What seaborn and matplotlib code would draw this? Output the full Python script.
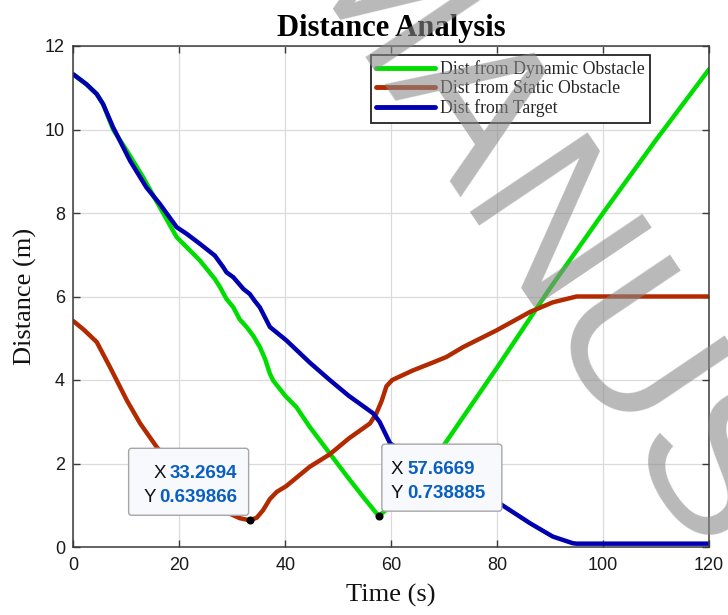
import numpy as np
import pandas as pd
import matplotlib
matplotlib.use("Agg")
import matplotlib.pyplot as plt
import seaborn as sns
from matplotlib.patches import FancyBboxPatch
from matplotlib.transforms import IdentityTransform

# ---------------- data ----------------
series_names = ["Dist from Dynamic Obstacle", "Dist from Static Obstacle", "Dist from Target"]
series_colors = ["#00dd00", "#b22a00", "#0000b0"]

dyn_t = [0, 2.5, 4.4, 5.6, 7.5, 10.1, 13.2, 16.3, 19.5, 21.4, 23.9, 26.7, 27.7, 28.9, 30.2,
         31.4, 32.7, 34.0, 35.2, 36.2, 37.1, 37.7, 40.0, 42.1, 44.6, 48.4, 51.5, 54.7, 57.2,
         57.67, 60, 63, 66, 70, 80, 90, 100, 110, 120]
dyn_d = [11.32, 11.08, 10.85, 10.61, 10.0, 9.49, 8.85, 8.14, 7.42, 7.18, 6.86, 6.42, 6.22, 5.94, 5.74,
         5.45, 5.27, 5.05, 4.79, 4.5, 4.15, 3.99, 3.62, 3.35, 2.88, 2.24, 1.72, 1.2, 0.81,
         0.739, 1.0, 1.4, 1.88, 2.45, 4.3, 6.2, 8.0, 9.75, 11.44]

sta_t = [0, 2, 4.4, 6.9, 10.1, 12.6, 15.7, 18, 21, 24, 27, 29.5, 31.4, 33.27, 34.6, 35.8, 37.1,
         38.4, 40.2, 44.6, 48.4, 52, 56.0, 57.2, 58.2, 59.1, 60.2, 64.1, 67.3, 70.4, 73.6, 79.9,
         86.2, 90.5, 95, 120]
sta_d = [5.41, 5.2, 4.91, 4.31, 3.51, 2.96, 2.40, 2.05, 1.65, 1.3, 1.0, 0.8, 0.69, 0.64, 0.7, 0.88, 1.15,
         1.32, 1.46, 1.92, 2.22, 2.6, 2.96, 3.2, 3.5, 3.85, 4.0, 4.23, 4.39, 4.55, 4.79, 5.19,
         5.63, 5.86, 6.0, 6.0]

tgt_t = [0, 2.5, 4.4, 5.6, 7.5, 10.7, 13.8, 16.3, 19.5, 21.4, 23.9, 26.7, 28.3, 28.9, 30.2, 32.1,
         33.3, 34.2, 35.2, 37.1, 40.2, 44.6, 48.4, 52, 55.3, 56.6, 57.8, 59.8, 62, 66, 70, 75,
         80.5, 86.2, 90.5, 94.3, 95, 120]
tgt_d = [11.32, 11.08, 10.85, 10.61, 10.05, 9.25, 8.61, 8.22, 7.66, 7.5, 7.26, 6.98, 6.70, 6.58, 6.46, 6.18,
         6.06, 5.9, 5.74, 5.27, 4.95, 4.42, 4.0, 3.62, 3.32, 3.2, 3.0, 2.48, 2.3, 1.98, 1.68, 1.36,
         1.04, 0.57, 0.25, 0.09, 0.08, 0.08]

tip_x = [33.2694, 57.6669]
tip_y = [0.639866, 0.738885]

x_ticks = [0, 20, 40, 60, 80, 100, 120]
y_ticks = [0, 2, 4, 6, 8, 10, 12]
title_text = "Distance Analysis"
x_label = "Time (s)"
y_label = "Distance (m)"
watermark_text = "MANUSCRIPT"

# ---------------- style ----------------
sns.set_theme(style="whitegrid")
plt.rcParams["font.family"] = ["Liberation Sans", "DejaVu Sans"]

W, H = 728, 615
fig = plt.figure(figsize=(W / 100, H / 100), dpi=100)
ax_l, ax_r, ax_t, ax_b = 73.4, 709.0, 46.0, 547.0
ax = fig.add_axes([ax_l / W, 1 - ax_b / H, (ax_r - ax_l) / W, (ax_b - ax_t) / H])

df = pd.concat([
    pd.DataFrame({"t": dyn_t, "d": dyn_d, "series": series_names[0]}),
    pd.DataFrame({"t": sta_t, "d": sta_d, "series": series_names[1]}),
    pd.DataFrame({"t": tgt_t, "d": tgt_d, "series": series_names[2]}),
], ignore_index=True)

sns.lineplot(data=df, x="t", y="d", hue="series", hue_order=series_names,
             palette=series_colors, linewidth=3.2, estimator=None, sort=False,
             legend=False, ax=ax)

ax.set_xlim(0, 120)
ax.set_ylim(0, 12)
ax.set_xticks(x_ticks)
ax.set_yticks(y_ticks)
ax.set_xticklabels([str(v) for v in x_ticks])
ax.set_yticklabels([str(v) for v in y_ticks])

ax.set_facecolor("white")
ax.grid(True, color="#dadada", linewidth=0.9)
for sp in ax.spines.values():
    sp.set_color("#3a3a3a")
    sp.set_linewidth(1.1)
ax.tick_params(axis="both", direction="in", length=5, width=1.0, color="#3a3a3a",
               bottom=True, left=True, top=True, right=True,
               labelsize=13, labelcolor="#1a1a1a")
ax.tick_params(axis="x", pad=7)
ax.tick_params(axis="y", pad=6)

ax.set_title(title_text, family="Liberation Serif", fontweight="bold", fontsize=22,
             color="black", pad=7)
ax.set_xlabel(x_label, family="Liberation Serif", fontsize=19, color="#111111", labelpad=7)
ax.set_ylabel(y_label, family="Liberation Serif", fontsize=19, color="#111111", labelpad=6)

leg = ax.legend(ax.lines[:3], series_names, loc="upper right",
                bbox_to_anchor=((650 - ax_l) / (ax_r - ax_l), 1 - (55 - ax_t) / (ax_b - ax_t)),
                borderaxespad=0, frameon=True, fancybox=False, framealpha=1,
                edgecolor="#222222", facecolor="white",
                prop={"family": "Liberation Serif", "size": 12.8},
                handlelength=3.3, handletextpad=0.3, labelspacing=0.12, borderpad=0.3)
leg.get_frame().set_linewidth(1.3)
for h in leg.get_lines():
    h.set_linewidth(3.5)

# data-tip markers
ax.plot(tip_x, tip_y, linestyle="none", marker="o", markersize=4.8,
        color="black", zorder=6)

# data-tip boxes (pixel offsets from the anchored point)
fig.canvas.draw()
renderer = fig.canvas.get_renderer()
ident = IdentityTransform()
val_color = "#0a5fc0"
box_w, box_h = 120, 67
for i, (xv, yv) in enumerate(zip(tip_x, tip_y)):
    px, py = ax.transData.transform((xv, yv))
    if i == 0:
        bx0 = px - 1 - box_w
    else:
        bx0 = px + 3
    by0 = py + 5
    box = FancyBboxPatch((bx0, by0), box_w, box_h, boxstyle="round,pad=0,rounding_size=3",
                         transform=ident, facecolor="#f8f9fd", edgecolor="#a6a6a6",
                         linewidth=1.0, zorder=7)
    fig.add_artist(box)
    lines = [("X", f"{xv:.4f}"), ("Y", f"{yv:.6f}")]
    base_offsets = [37, 13]
    for (lab, val), bo in zip(lines, base_offsets):
        by = by0 + bo
        if i == 0:
            tv = fig.text(bx0 + box_w - 11, by, val, transform=ident, ha="right", va="baseline",
                          fontsize=13.5, fontweight="bold", color=val_color, zorder=8)
            ext = tv.get_window_extent(renderer)
            fig.text(ext.x0 - 4, by, lab, transform=ident, ha="right", va="baseline",
                     fontsize=13.5, color="#111111", zorder=8)
        else:
            tl = fig.text(bx0 + 9, by, lab, transform=ident, ha="left", va="baseline",
                          fontsize=13.5, color="#111111", zorder=8)
            ext = tl.get_window_extent(renderer)
            fig.text(ext.x1 + 4, by, val, transform=ident, ha="left", va="baseline",
                     fontsize=13.5, fontweight="bold", color=val_color, zorder=8)

# watermark
fig.text(280 / W, 1 + 44 / H, watermark_text, rotation=-56, rotation_mode="anchor",
         ha="left", va="baseline", fontsize=148, color="#8a8a8a", alpha=0.6,
         family="Liberation Sans", zorder=20)

fig.savefig("out.png", dpi=100, facecolor="white")
